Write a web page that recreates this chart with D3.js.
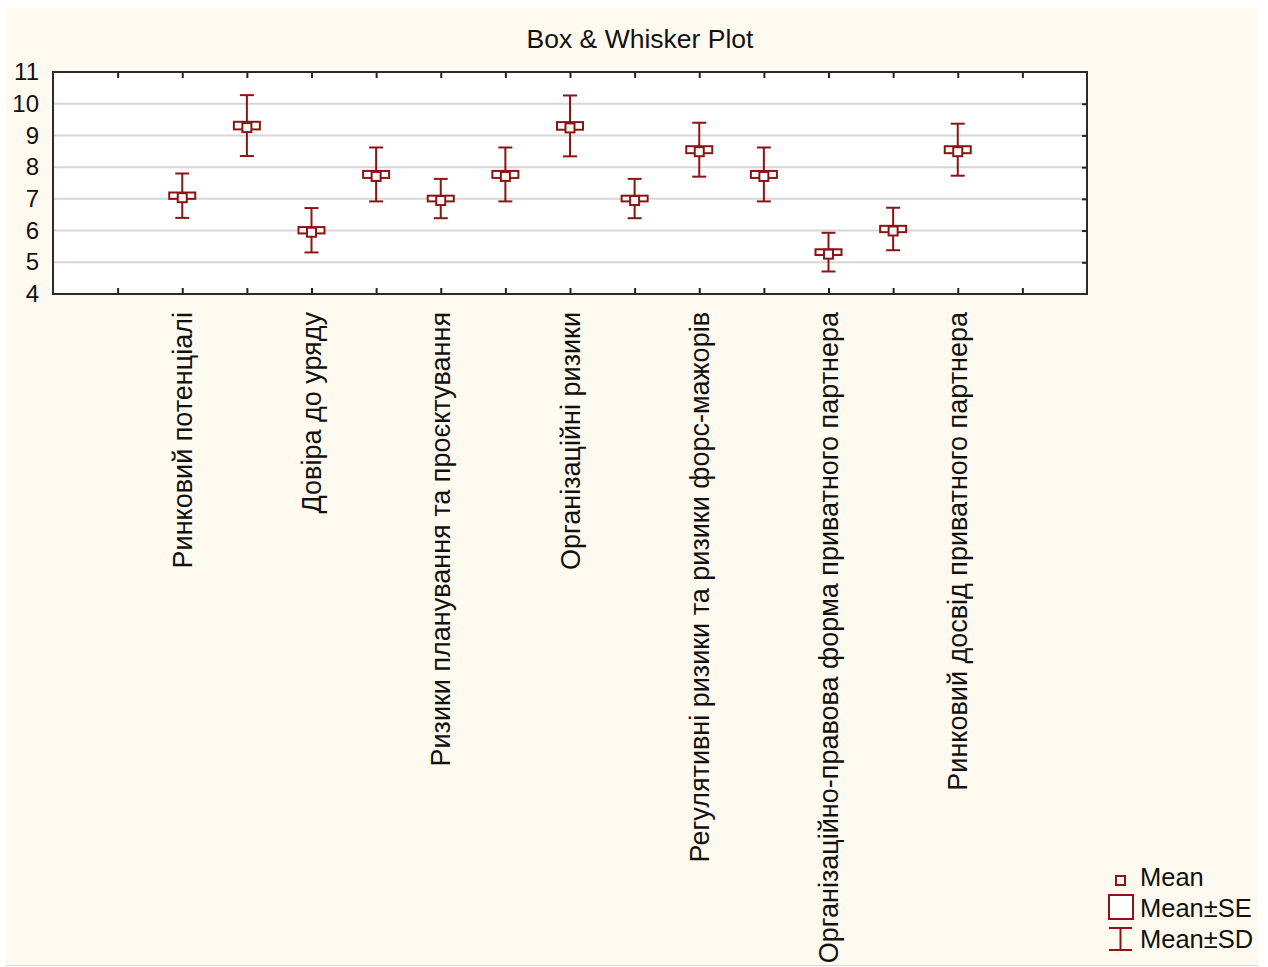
<!DOCTYPE html>
<html>
<head>
<meta charset="utf-8">
<script src="https://cdn.jsdelivr.net/npm/d3@7"></script>
<style>
  html, body { margin: 0; padding: 0; background: #ffffff; }
  svg { display: block; font-family: "Liberation Sans", Arial, sans-serif; }
</style>
</head>
<body>
<svg id="chart" width="1268" height="967"></svg>
<script>
// ---- data ----
const categories = [
  "Ринковий потенціалі", "",
  "Довіра до уряду", "",
  "Ризики планування та проєктування", "",
  "Організаційні ризики", "",
  "Регулятивні ризики та ризики форс-мажорів", "",
  "Організаційно-правова форма приватного партнера", "",
  "Ринковий досвід приватного партнера"
];
const means = [7.10, 9.31, 6.01, 7.77, 7.01, 7.77, 9.30, 7.01, 8.55, 7.77, 5.32, 6.05, 8.55];
const sds   = [0.70, 0.96, 0.70, 0.85, 0.62, 0.85, 0.96, 0.62, 0.85, 0.85, 0.61, 0.67, 0.82];
const ses   = [0.10, 0.12, 0.10, 0.11, 0.09, 0.11, 0.12, 0.09, 0.11, 0.11, 0.09, 0.10, 0.11];
const yTicks = [4, 5, 6, 7, 8, 9, 10, 11];
const title = "Box & Whisker Plot";
const legendItems = ["Mean", "Mean±SE", "Mean±SD"];

// ---- layout ----
const svg = d3.select("#chart");
const L = 53, R = 1087, T = 72, B = 294;
const red = "#8b1414";
const ink = "#111111";

svg.append("rect").attr("x", 6).attr("y", 8).attr("width", 1252).attr("height", 957)
  .attr("fill", "#fffaef");
svg.append("line").attr("x1", 6).attr("x2", 1258).attr("y1", 965.5).attr("y2", 965.5)
  .attr("stroke", "#d9d9d9").attr("stroke-width", 1);

const x = d3.scaleLinear().domain([0, categories.length + 3]).range([L, R]);
const y = d3.scaleLinear().domain([4, 11]).range([B, T]);
const pos = i => x(i + 2);

// plot background
svg.append("rect").attr("x", L).attr("y", T).attr("width", R - L).attr("height", B - T)
  .attr("fill", "#ffffff");

// grid
svg.append("g").selectAll("line").data(yTicks.slice(1, -1)).join("line")
  .attr("x1", L).attr("x2", R).attr("y1", d => y(d)).attr("y2", d => y(d))
  .attr("stroke", "#d6d6d6").attr("stroke-width", 2);

// top / bottom ticks (inward)
const xTickVals = d3.range(1, categories.length + 3);
svg.append("g").attr("transform", `translate(0,${T})`)
  .call(d3.axisBottom(x).tickValues(xTickVals).tickSize(6).tickFormat(""))
  .call(g => g.select(".domain").remove())
  .call(g => g.selectAll("line").attr("stroke", "#222").attr("stroke-width", 2));
svg.append("g").attr("transform", `translate(0,${B})`)
  .call(d3.axisTop(x).tickValues(xTickVals).tickSize(6).tickFormat(""))
  .call(g => g.select(".domain").remove())
  .call(g => g.selectAll("line").attr("stroke", "#222").attr("stroke-width", 2));
// right ticks (inward)
svg.append("g").attr("transform", `translate(${R},0)`)
  .call(d3.axisLeft(y).tickValues(yTicks.slice(1, -1)).tickSize(5).tickFormat(""))
  .call(g => g.select(".domain").remove())
  .call(g => g.selectAll("line").attr("stroke", "#222").attr("stroke-width", 2));
// left axis labels
svg.append("g").attr("transform", `translate(${L},0)`)
  .call(d3.axisLeft(y).tickValues(yTicks).tickSize(0).tickPadding(14).tickFormat(d3.format("d")))
  .call(g => g.select(".domain").remove())
  .call(g => g.selectAll("text").attr("fill", ink).attr("font-size", 24)
    .attr("font-family", "'Liberation Sans', Arial, sans-serif"));

// frame
svg.append("rect").attr("x", L).attr("y", T).attr("width", R - L).attr("height", B - T)
  .attr("fill", "none").attr("stroke", "#2b2b2b").attr("stroke-width", 2);

// marks
const data = means.map((m, i) => ({ i, m, sd: sds[i], se: ses[i] }));
const g = svg.append("g");
const boxW = 26, capW = 14, meanSz = 9;
const items = g.selectAll("g.item").data(data).join("g").attr("class", "item");
items.append("line")
  .attr("x1", d => pos(d.i)).attr("x2", d => pos(d.i))
  .attr("y1", d => y(d.m + d.sd)).attr("y2", d => y(d.m - d.sd))
  .attr("stroke", red).attr("stroke-width", 2);
items.append("line")
  .attr("x1", d => pos(d.i) - capW / 2).attr("x2", d => pos(d.i) + capW / 2)
  .attr("y1", d => y(d.m + d.sd)).attr("y2", d => y(d.m + d.sd))
  .attr("stroke", red).attr("stroke-width", 2);
items.append("line")
  .attr("x1", d => pos(d.i) - capW / 2).attr("x2", d => pos(d.i) + capW / 2)
  .attr("y1", d => y(d.m - d.sd)).attr("y2", d => y(d.m - d.sd))
  .attr("stroke", red).attr("stroke-width", 2);
items.append("rect")
  .attr("x", d => pos(d.i) - boxW / 2).attr("width", boxW)
  .attr("y", d => y(d.m + d.se)).attr("height", d => y(d.m - d.se) - y(d.m + d.se))
  .attr("fill", "#ffffff").attr("stroke", red).attr("stroke-width", 2);
items.append("rect")
  .attr("x", d => pos(d.i) - meanSz / 2).attr("width", meanSz)
  .attr("y", d => y(d.m) - meanSz / 2 + 2).attr("height", meanSz)
  .attr("fill", "#ffffff").attr("stroke", red).attr("stroke-width", 2);

// category labels (rotated)
svg.append("g").selectAll("text").data(categories.map((c, i) => ({ c, i })).filter(d => d.c))
  .join("text")
  .attr("transform", d => `translate(${pos(d.i)},312) rotate(-90)`)
  .attr("dy", "0.36em")
  .attr("text-anchor", "end")
  .attr("font-size", 27)
  .attr("fill", ink)
  .text(d => d.c);

// title
svg.append("text").attr("x", 640).attr("y", 48).attr("text-anchor", "middle")
  .attr("font-size", 26.5).attr("fill", ink).text(title);

// legend
const lg = svg.append("g");
const lx = 1140;
const lys = [886, 917, 948];
lg.selectAll("text").data(legendItems).join("text")
  .attr("x", lx).attr("y", (d, i) => lys[i])
  .attr("font-size", 25.5).attr("fill", ink).text(d => d);
lg.append("rect").attr("x", 1116).attr("y", 876).attr("width", 9).attr("height", 9)
  .attr("fill", "#fff").attr("stroke", red).attr("stroke-width", 2);
lg.append("rect").attr("x", 1109).attr("y", 895).attr("width", 24).attr("height", 24)
  .attr("fill", "#fff").attr("stroke", red).attr("stroke-width", 2);
lg.append("line").attr("x1", 1120.5).attr("x2", 1120.5).attr("y1", 928).attr("y2", 950)
  .attr("stroke", red).attr("stroke-width", 2);
lg.append("line").attr("x1", 1109).attr("x2", 1132).attr("y1", 928).attr("y2", 928)
  .attr("stroke", red).attr("stroke-width", 2);
lg.append("line").attr("x1", 1109).attr("x2", 1132).attr("y1", 950).attr("y2", 950)
  .attr("stroke", red).attr("stroke-width", 2);
</script>
</body>
</html>
